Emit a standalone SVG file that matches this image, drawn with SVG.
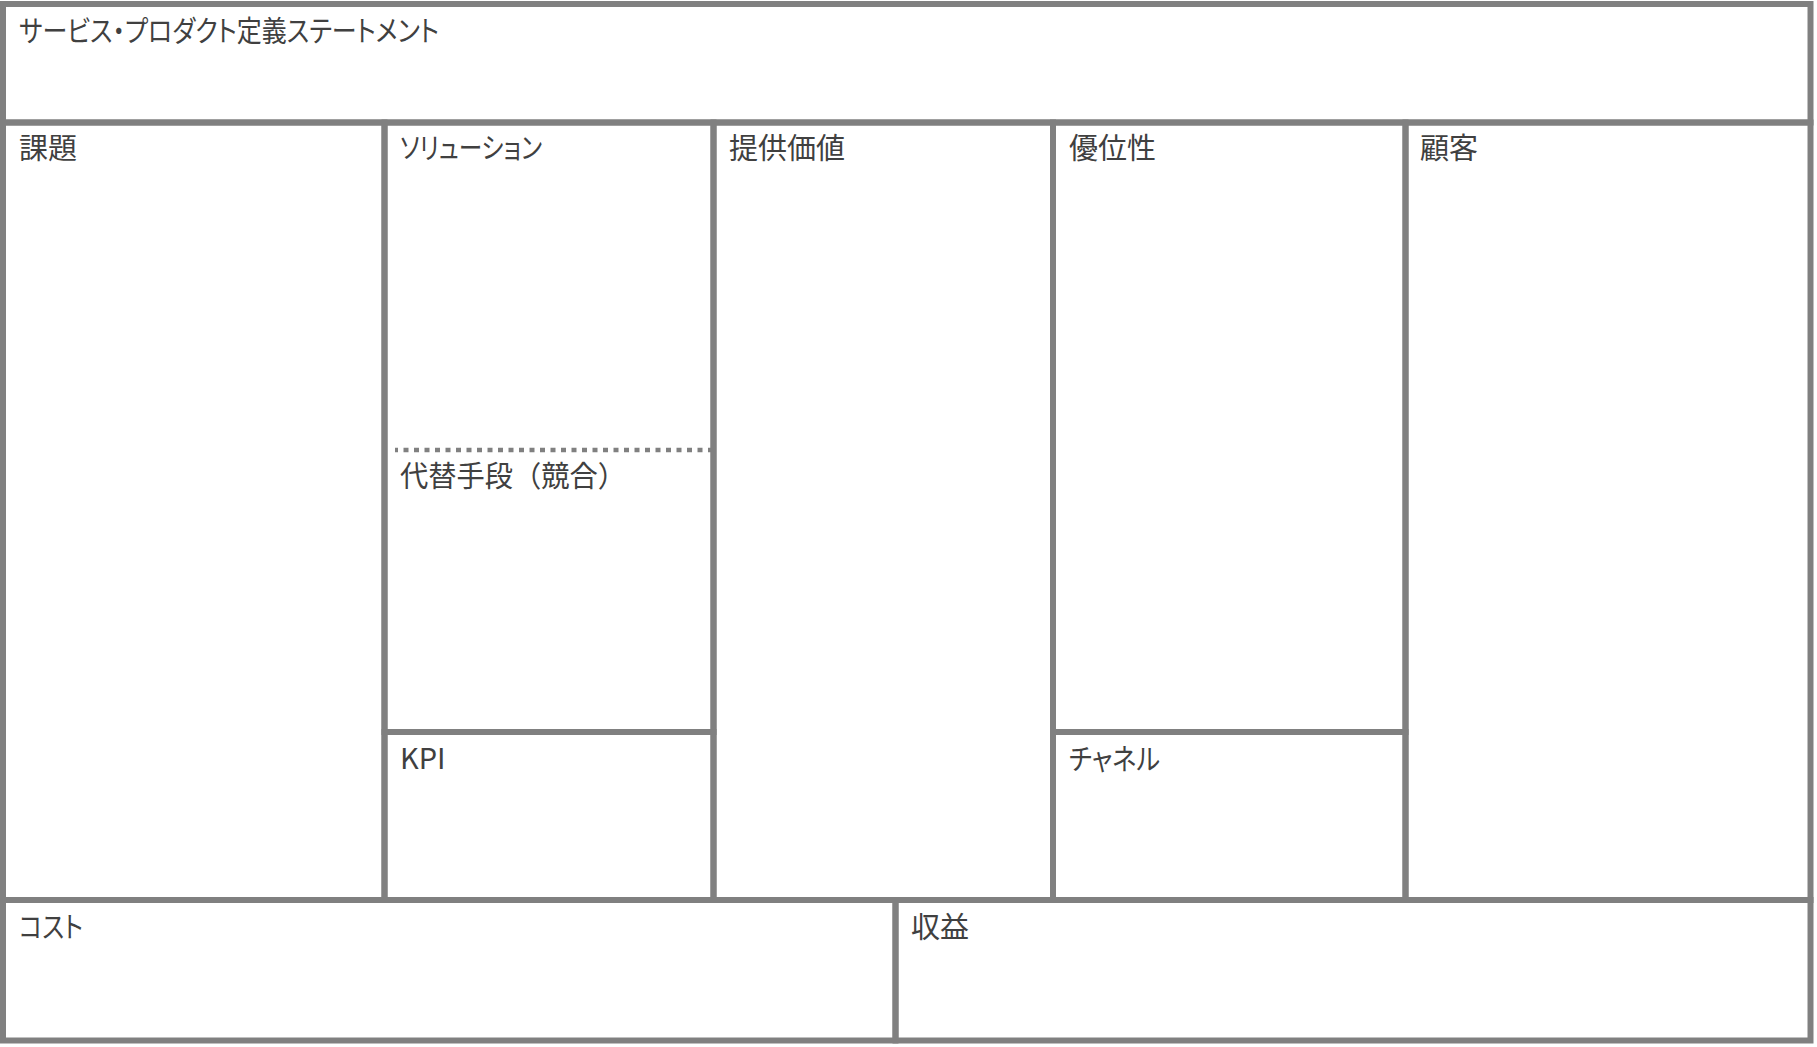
<svg xmlns="http://www.w3.org/2000/svg" width="1817" height="1047" viewBox="0 0 1817 1047">
  <style>
    .cell { fill: none; stroke: #808080; stroke-width: 6; }
    .dot { stroke: #808080; stroke-width: 4.5; stroke-dasharray: 5 5.5; fill: none; }
    .lbl { font-family: "Noto Sans CJK JP", "Noto Sans", sans-serif; font-size: 29px; fill: #404040; font-feature-settings: "palt"; }
    .full { font-feature-settings: normal; }
  </style>
  <rect x="0" y="0" width="1817" height="1047" fill="#ffffff"/>
  <g id="statement">
    <rect class="cell" x="3" y="4" width="1807.5" height="118.5"/>
    <text class="lbl" x="19" y="42" textLength="420" lengthAdjust="spacingAndGlyphs">サービス・プロダクト定義ステートメント</text>
  </g>
  <g id="problem">
    <rect class="cell" x="3" y="122.5" width="381.5" height="777.5"/>
    <text class="lbl" x="19" y="159">課題</text>
  </g>
  <g id="solution">
    <rect class="cell" x="384.5" y="122.5" width="329" height="609.5"/>
    <text class="lbl" x="400" y="159" textLength="142" lengthAdjust="spacingAndGlyphs">ソリューション</text>
  </g>
  <g id="alternatives">
    <line class="dot" x1="713" y1="450" x2="395" y2="450"/>
    <text class="lbl full" x="400" y="487" textLength="226" lengthAdjust="spacingAndGlyphs">代替手段（競合）</text>
  </g>
  <g id="kpi">
    <rect class="cell" x="384.5" y="732" width="329" height="168"/>
    <text class="lbl" x="400" y="769">KPI</text>
  </g>
  <g id="value">
    <rect class="cell" x="713.5" y="122.5" width="339.5" height="777.5"/>
    <text class="lbl" x="729" y="159">提供価値</text>
  </g>
  <g id="advantage">
    <rect class="cell" x="1053" y="122.5" width="352.5" height="609.5"/>
    <text class="lbl" x="1069" y="159">優位性</text>
  </g>
  <g id="channel">
    <rect class="cell" x="1053" y="732" width="352.5" height="168"/>
    <text class="lbl" x="1069" y="770" textLength="91" lengthAdjust="spacingAndGlyphs">チャネル</text>
  </g>
  <g id="customer">
    <rect class="cell" x="1405.5" y="122.5" width="405" height="777.5"/>
    <text class="lbl" x="1420" y="159">顧客</text>
  </g>
  <g id="cost">
    <rect class="cell" x="3" y="900" width="892.5" height="140.5"/>
    <text class="lbl" x="19" y="938" textLength="64" lengthAdjust="spacingAndGlyphs">コスト</text>
  </g>
  <g id="revenue">
    <rect class="cell" x="895.5" y="900" width="915" height="140.5"/>
    <text class="lbl" x="911" y="938">収益</text>
  </g>
  <g id="connectors"></g>
</svg>
